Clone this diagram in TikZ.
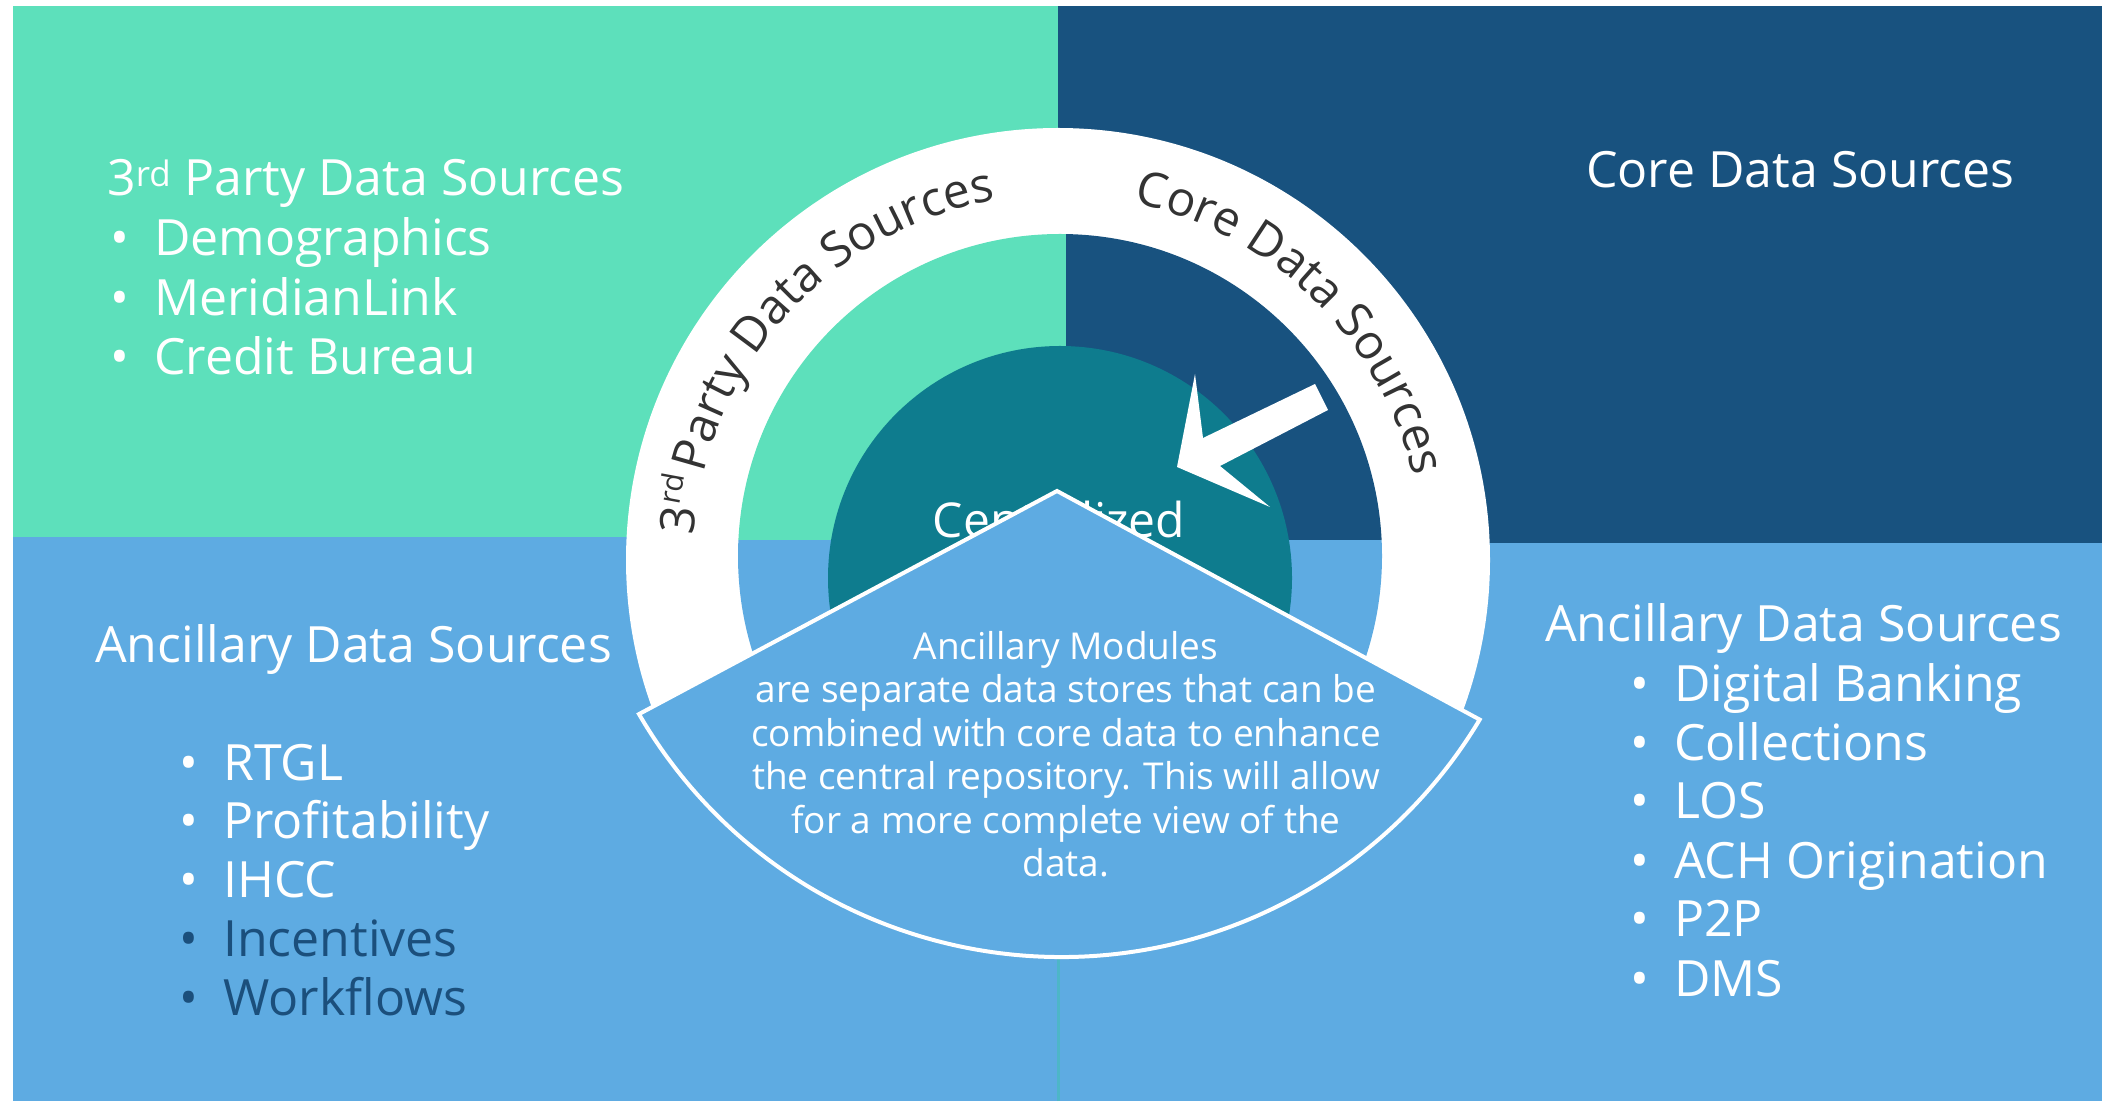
\documentclass[tikz,border=0pt]{standalone}
\usepackage{fontspec}
\setmainfont{Open Sans}
\usetikzlibrary{decorations.text}
\definecolor{qteal}{HTML}{5DE0BB}
\definecolor{dblue}{HTML}{18527F}
\definecolor{lblue}{HTML}{5EABE2}
\definecolor{cteal}{HTML}{0E7C8E}
\definecolor{dtext}{HTML}{1B4F7C}
\definecolor{ringgray}{HTML}{333333}
\definecolor{seam}{HTML}{4DB6C8}
\newcommand{\bul}{\makebox[44pt][l]{\textbullet}}
\begin{document}
\begin{tikzpicture}[x=1pt,y=1pt,
  title/.style={text=white, font=\fontsize{50}{56}\selectfont, anchor=base west, inner sep=0pt},
  darkitem/.style={title, text=dtext},
  centr/.style={text=white, font=\fontsize{48}{52}\selectfont, anchor=base, inner sep=0pt},
  ptext/.style={text=white, font=\fontsize{37}{43.5}\selectfont, align=center, anchor=base, inner sep=0pt},
  ringch/.style={text=ringgray, font=\fontsize{48}{50}\selectfont, anchor=base, inner sep=0pt},
  ringsup/.style={text=ringgray, font=\fontsize{30}{32}\selectfont, anchor=base, inner sep=0pt}]
\useasboundingbox (0,0) rectangle (2113,1101);
\fill[white] (0,0) rectangle (2113,1101);
% quadrants
\fill[lblue] (13,0) rectangle (2102,564);
\fill[qteal] (13,564) rectangle (1058,1095);
\fill[dblue] (1058,558) rectangle (2102,1095);
\draw[seam, line width=3pt] (1058,0) -- (1058,150);
% white ring (outer disk)
\begin{scope}
  \clip (500,371) rectangle (1620,1000);
  \fill[white] (1058,541) circle[radius=432];
\end{scope}
% inner disk quadrants
\begin{scope}
  \clip (1060,545) circle[radius=322];
  \fill[qteal] (700,561) rectangle (1066,900);
  \fill[dblue] (1066,561) rectangle (1420,900);
  \fill[lblue] (700,100) rectangle (1420,561);
\end{scope}
% ring texts
\node[ringch, rotate=84] (three) at (695.0,579.2) {3};
\node[ringsup, rotate=79.5] (rd) at (682.4,610.6) {rd};
\path[decorate, decoration={text along path, text color=ringgray, text align=left,
  text={|\fontsize{48}{50}\selectfont|Party Data Sources}}]
  (1058,541) ++(166.3:365) arc[start angle=166.3, end angle=88, radius=365];
\path[decorate, decoration={text along path, text color=ringgray, text align=left,
  text={|\fontsize{48}{50}\selectfont|Core Data Sources}}]
  (1058,541) ++(78:365) arc[start angle=78, end angle=-7, radius=365];
% centralized circle
\fill[cteal] (1060,523) circle[radius=232];
\node[centr] (centr) at (1059,563) {Centralized};
% arrow
\fill[white] (1177,634) -- (1195,727) -- (1203,663) -- (1315,717) -- (1328,691)
  -- (1220,635) -- (1270,594) -- cycle;
% ancillary modules shape
\filldraw[fill=lblue, draw=white, line width=4pt, line join=miter]
  (1057,610) -- (639.0,386.9) arc[start angle=210.15, end angle=329.1, radius=488] -- cycle;
\node[ptext] (anc) at (1066,224) {Ancillary Modules\\are separate data stores that can be\\combined with core data to enhance\\the central repository. This will allow\\for a more complete view of the\\data.};
% top-left block
\node[title] (tlt) at (107,905) {3\textsuperscript{rd} Party Data Sources};
\node[title] (tl1) at (110,845) {\bul Demographics};
\node[title] (tl2) at (110,785) {\bul MeridianLink};
\node[title] (tl3) at (110,726) {\bul Credit Bureau};
% top-right block
\node[title] (trt) at (1586,913) {Core Data Sources};
% bottom-left block
\node[title] (blt) at (95,438) {Ancillary Data Sources};
\node[title] (bl1) at (179,320) {\bul RTGL};
\node[title] (bl2) at (179,262) {\bul Profitability};
\node[title] (bl3) at (179,203) {\bul IHCC};
\node[darkitem] (bl4) at (179,144) {\bul Incentives};
\node[darkitem] (bl5) at (179,86) {\bul Workflows};
% bottom-right block
\node[title] (brt) at (1545,459) {Ancillary Data Sources};
\node[title] (br1) at (1630,399) {\bul Digital Banking};
\node[title] (br2) at (1630,340) {\bul Collections};
\node[title] (br3) at (1630,282) {\bul LOS};
\node[title] (br4) at (1630,222) {\bul ACH Origination};
\node[title] (br5) at (1630,164) {\bul P2P};
\node[title] (br6) at (1630,105) {\bul DMS};
\end{tikzpicture}
\end{document}
